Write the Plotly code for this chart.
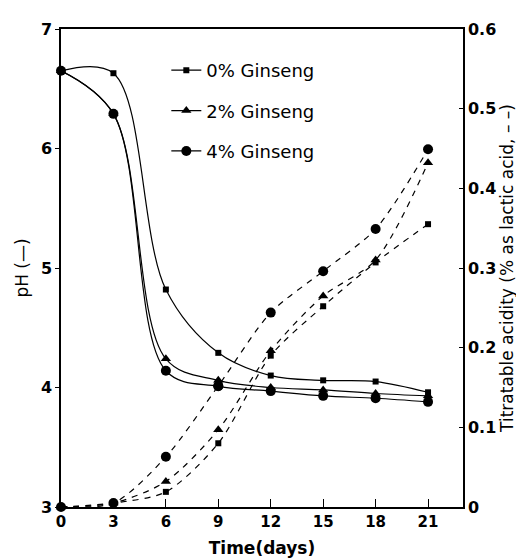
import plotly.graph_objects as go

days = [0, 3, 6, 9, 12, 15, 18, 21]
labels = ["0% Ginseng", "2% Ginseng", "4% Ginseng"]
ph_0 = [6.65, 6.63, 4.82, 4.29, 4.10, 4.06, 4.05, 3.96]
ph_2 = [6.65, 6.29, 4.24, 4.06, 4.00, 3.98, 3.95, 3.93]
ph_4 = [6.65, 6.29, 4.14, 4.01, 3.97, 3.93, 3.91, 3.88]
ta_0 = [0.0, 0.005, 0.019, 0.080, 0.190, 0.252, 0.307, 0.355]
ta_2 = [0.0, 0.005, 0.032, 0.097, 0.196, 0.265, 0.310, 0.432]
ta_4 = [0.0, 0.005, 0.063, 0.152, 0.244, 0.296, 0.349, 0.449]
symbols = ["square", "triangle-up", "circle"]
sizes = [6, 9, 10]

FONT = "DejaVu Sans, Liberation Sans, Arial, sans-serif"
fig = go.Figure()
for i, (ph, lab) in enumerate(zip([ph_0, ph_2, ph_4], labels)):
    fig.add_trace(go.Scatter(
        x=days, y=ph, name=lab, mode="lines+markers",
        line=dict(color="black", width=1.2, shape="spline", smoothing=1.0),
        marker=dict(symbol=symbols[i], size=sizes[i], color="black"),
        cliponaxis=False, legendgroup=f"g{i}", showlegend=True,
    ))
for i, (ta, lab) in enumerate(zip([ta_0, ta_2, ta_4], labels)):
    fig.add_trace(go.Scatter(
        x=days, y=ta, name=lab, mode="lines+markers", yaxis="y2",
        line=dict(color="black", width=1.2, dash="6px,6px", shape="spline", smoothing=0.8),
        marker=dict(symbol=symbols[i], size=sizes[i], color="black"),
        cliponaxis=False, showlegend=False,
    ))

fig.update_layout(
    width=524, height=559,
    margin=dict(l=53, r=69, t=15, b=59),
    paper_bgcolor="white", plot_bgcolor="white",
    font=dict(family=FONT, color="black"),
    showlegend=True,
    legend=dict(x=0.262, y=0.952, xanchor="left", yanchor="top",
                bgcolor="rgba(0,0,0,0)", font=dict(size=18, family=FONT),
                tracegroupgap=14, itemwidth=30),
    xaxis=dict(range=[0, 23], tickvals=[0, 3, 6, 9, 12, 15, 18, 21],
               ticks="inside", ticklen=8, tickcolor="black",
               showline=True, linecolor="black", linewidth=1.5, mirror=True,
               showgrid=False, zeroline=False,
               tickfont=dict(size=15, weight="bold"),
               title=dict(text="Time(days)", font=dict(size=17, weight="bold"), standoff=12)),
    yaxis=dict(range=[3, 7], dtick=1, ticks="outside", ticklen=4, tickcolor="black",
               showline=True, linecolor="black", linewidth=1.5,
               showgrid=False, zeroline=False,
               tickfont=dict(size=16, weight="bold"),
               title=dict(text="pH (\u2014)", font=dict(size=17), standoff=8)),
    yaxis2=dict(range=[0, 0.6], dtick=0.1, overlaying="y", side="right",
                ticks="inside", ticklen=4, tickcolor="black",
                showline=True, linecolor="black", linewidth=1.5,
                showgrid=False, zeroline=False, tickformat="~g",
                tickfont=dict(size=16, weight="bold"),
                title=dict(text="Titratable acidity (% as lactic acid, \u2013 \u2013)",
                           font=dict(size=17), standoff=6)),
)
fig.write_html("out.html")
